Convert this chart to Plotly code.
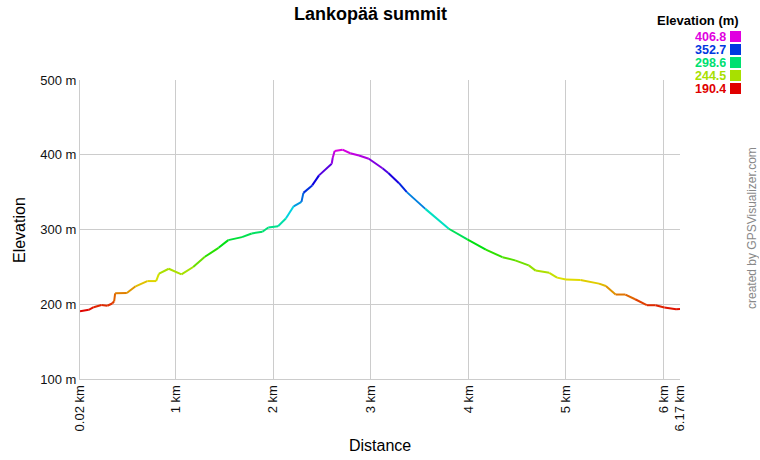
import colorsys
import plotly.graph_objects as go

# ---- data ----
dist_km = [0.02, 0.11, 0.16, 0.24, 0.30, 0.35, 0.37, 0.38, 0.50, 0.59, 0.71, 0.80, 0.83, 0.93,
           1.06, 1.18, 1.30, 1.44, 1.54, 1.68, 1.78, 1.89, 1.95, 2.05, 2.13, 2.21, 2.29, 2.31,
           2.40, 2.47, 2.60, 2.61, 2.63, 2.71, 2.79, 2.88, 2.98, 3.12, 3.18, 3.29, 3.37, 3.56,
           3.80, 3.99, 4.18, 4.35, 4.48, 4.62, 4.69, 4.83, 4.91, 5.00, 5.15, 5.34, 5.41, 5.51,
           5.61, 5.71, 5.83, 5.92, 6.01, 6.13, 6.17]
elev_m = [190.6, 192.5, 196, 199, 198, 201, 204, 214.7, 215, 224, 231, 231, 241, 247.5,
          240, 249.8, 263.5, 275.5, 285.8, 289.8, 294.7, 297, 302.7, 304.4, 314.7, 331, 337, 349,
          359, 372.4, 388, 395.6, 405, 406.8, 402, 399, 394.7, 382, 375.6, 362, 350, 327.6,
          301, 286.7, 273, 263, 258.7, 252, 245, 242, 235.6, 233, 232.4, 227.6, 224.5, 213,
          213, 206.7, 198.7, 198.7, 195.6, 193.3, 193.5]
x_tickvals = [0.02, 1, 2, 3, 4, 5, 6, 6.17]
x_ticktext = ["0.02 km", "1 km", "2 km", "3 km", "4 km", "5 km", "6 km", "6.17 km"]
y_tickvals = [100, 200, 300, 400, 500]
y_ticktext = ["100 m", "200 m", "300 m", "400 m", "500 m"]
legend_vals = [406.8, 352.7, 298.6, 244.5, 190.4]

EMIN, EMAX = 190.4, 406.8
FONT = "Liberation Sans, Arial, sans-serif"


def elev_color(e):
    f = max(0.0, min(1.0, (e - EMIN) / (EMAX - EMIN)))
    r, g, b = colorsys.hsv_to_rgb(f * 300 / 360, 1.0, 0.88)
    return "rgb(%d,%d,%d)" % (round(r * 255), round(g * 255), round(b * 255))


fig = go.Figure()
for i in range(len(dist_km) - 1):
    fig.add_trace(go.Scatter(
        x=dist_km[i:i + 2], y=elev_m[i:i + 2], mode="lines",
        line=dict(color=elev_color((elev_m[i] + elev_m[i + 1]) / 2), width=2),
        showlegend=False, hoverinfo="skip"))

L, R, T, B = 80, 80, 80, 81
W, H = 760, 460
PW, PH = W - L - R, H - T - B


def px(xp):
    return (xp - L) / PW


def py(yp):
    return (H - B - yp) / PH


ann = []
shapes = []
ann.append(dict(text="<b>Lankopää summit</b>", x=px(370), y=py(14), xref="paper", yref="paper",
                showarrow=False, font=dict(size=18, color="black", family=FONT),
                xanchor="center", yanchor="middle"))
ann.append(dict(text="<b>Elevation (m)</b>", x=px(741), y=py(21), xref="paper", yref="paper",
                showarrow=False, font=dict(size=13, color="black", family=FONT),
                xanchor="right", yanchor="middle"))
for k, v in enumerate(legend_vals):
    yc = 36.5 + k * 13
    c = elev_color(v)
    ann.append(dict(text="<b>%.1f</b>" % v, x=px(728), y=py(yc), xref="paper", yref="paper",
                    showarrow=False, font=dict(size=12.5, color=c, family=FONT),
                    xanchor="right", yanchor="middle", height=13, valign="middle"))
    shapes.append(dict(type="rect", xref="paper", yref="paper",
                       x0=px(730), x1=px(741), y0=py(yc + 5.5), y1=py(yc - 5.5),
                       fillcolor=c, line=dict(width=0)))
ann.append(dict(text="created by GPSVisualizer.com", x=px(752), y=py(228), xref="paper",
                yref="paper", showarrow=False, textangle=-90,
                font=dict(size=12, color="#888888", family=FONT),
                xanchor="center", yanchor="middle", height=14))
ann.append(dict(text="Distance", x=px(380), y=py(445), xref="paper", yref="paper",
                showarrow=False, font=dict(size=16, color="black", family=FONT),
                xanchor="center", yanchor="middle"))
ann.append(dict(text="Elevation", x=px(19), y=py(230), xref="paper", yref="paper",
                showarrow=False, textangle=-90, font=dict(size=16, color="black", family=FONT),
                xanchor="center", yanchor="middle"))

fig.update_layout(
    width=W, height=H, margin=dict(l=L, r=R, t=T, b=B, autoexpand=False),
    paper_bgcolor="white", plot_bgcolor="white",
    font=dict(family=FONT, color="black", size=13),
    annotations=ann, shapes=shapes,
    xaxis=dict(range=[0.02, 6.17], tickmode="array", tickvals=x_tickvals, ticktext=x_ticktext,
               tickangle=-90, showgrid=True, gridcolor="#cccccc", gridwidth=1,
               showline=True, linecolor="#cccccc", zeroline=False, ticks="",
               automargin=False, tickfont=dict(size=13, color="#111111")),
    yaxis=dict(range=[100, 500], tickmode="array", tickvals=y_tickvals, ticktext=y_ticktext,
               showgrid=True, gridcolor="#cccccc", gridwidth=1, showline=True,
               linecolor="#cccccc", zeroline=False, ticks="", automargin=False,
               tickfont=dict(size=13, color="#111111")),
)

fig.write_html("out.html", config={"displayModeBar": False},
               post_script="document.body.style.margin='0';document.body.style.padding='0';")
